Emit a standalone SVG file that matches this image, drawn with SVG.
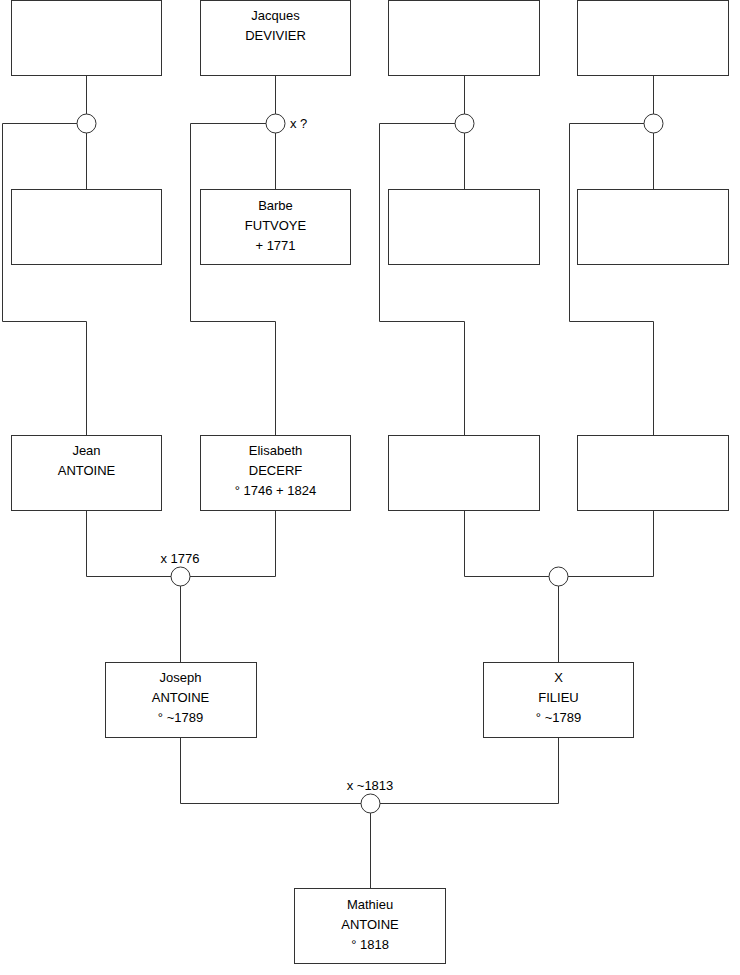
<svg xmlns="http://www.w3.org/2000/svg" width="740" height="975" viewBox="0 0 740 975">
<style>
.box{fill:#fff;stroke:#333;stroke-width:1}
.ln{fill:none;stroke:#333;stroke-width:1}
.c{fill:#fff;stroke:#333;stroke-width:1}
text{font-family:"Liberation Sans",Arial,sans-serif;font-size:13px;fill:#000;text-anchor:middle}
.l{text-anchor:start}
</style>
<rect width="740" height="975" fill="#fff"/>
<g id="connectors">
<path class="ln" d="M86.5 76V189M77 123.5H2.5V321.5H86.5V435"/>
<path class="ln" d="M275.5 76V189M266 123.5H190.5V321.5H275.5V435"/>
<path class="ln" d="M464.5 76V189M455 123.5H379.5V321.5H464.5V435"/>
<path class="ln" d="M653.5 76V189M644 123.5H569.5V321.5H653.5V435"/>
<path class="ln" d="M86.5 510V576.5H275.5V510M180.5 576.5V662"/>
<path class="ln" d="M464.5 510V576.5H653.5V510M558.5 576.5V662"/>
<path class="ln" d="M180.5 737V803.5H558.5V737M370.5 803.5V888"/>
</g>
<g id="u1"><circle class="c" cx="86.5" cy="123.5" r="9.5"/></g>
<g id="u2"><circle class="c" cx="275.5" cy="123.5" r="9.5"/><text class="l" x="290" y="128">x ?</text></g>
<g id="u3"><circle class="c" cx="464.5" cy="123.5" r="9.5"/></g>
<g id="u4"><circle class="c" cx="653.5" cy="123.5" r="9.5"/></g>
<g id="u5"><circle class="c" cx="180.5" cy="576.5" r="9.5"/><text x="180" y="563">x 1776</text></g>
<g id="u6"><circle class="c" cx="558.5" cy="576.5" r="9.5"/></g>
<g id="u7"><circle class="c" cx="370.5" cy="803.5" r="9.5"/><text x="370" y="790">x ~1813</text></g>
<g id="p1"><rect class="box" x="11.5" y="0.5" width="150" height="75"/></g>
<g id="p2"><rect class="box" x="200.5" y="0.5" width="150" height="75"/><text x="275.5" y="20">Jacques</text><text x="275.5" y="40">DEVIVIER</text></g>
<g id="p3"><rect class="box" x="388.5" y="0.5" width="151" height="75"/></g>
<g id="p4"><rect class="box" x="577.5" y="0.5" width="151" height="75"/></g>
<g id="p5"><rect class="box" x="11.5" y="189.5" width="150" height="75"/></g>
<g id="p6"><rect class="box" x="200.5" y="189.5" width="150" height="75"/><text x="275.5" y="210">Barbe</text><text x="275.5" y="230">FUTVOYE</text><text x="275.5" y="250">+ 1771</text></g>
<g id="p7"><rect class="box" x="388.5" y="189.5" width="151" height="75"/></g>
<g id="p8"><rect class="box" x="577.5" y="189.5" width="151" height="75"/></g>
<g id="p9"><rect class="box" x="11.5" y="435.5" width="150" height="75"/><text x="86.5" y="455">Jean</text><text x="86.5" y="475">ANTOINE</text></g>
<g id="p10"><rect class="box" x="200.5" y="435.5" width="150" height="75"/><text x="275.5" y="455">Elisabeth</text><text x="275.5" y="475">DECERF</text><text x="275.5" y="495">° 1746 + 1824</text></g>
<g id="p11"><rect class="box" x="388.5" y="435.5" width="151" height="75"/></g>
<g id="p12"><rect class="box" x="577.5" y="435.5" width="151" height="75"/></g>
<g id="p13"><rect class="box" x="105.5" y="662.5" width="151" height="75"/><text x="180.5" y="682">Joseph</text><text x="180.5" y="702">ANTOINE</text><text x="180.5" y="722">° ~1789</text></g>
<g id="p14"><rect class="box" x="483.5" y="662.5" width="150" height="75"/><text x="558.5" y="682">X</text><text x="558.5" y="702">FILIEU</text><text x="558.5" y="722">° ~1789</text></g>
<g id="p15"><rect class="box" x="294.5" y="888.5" width="151" height="75"/><text x="370" y="909">Mathieu</text><text x="370" y="929">ANTOINE</text><text x="370" y="949">° 1818</text></g>
</svg>
